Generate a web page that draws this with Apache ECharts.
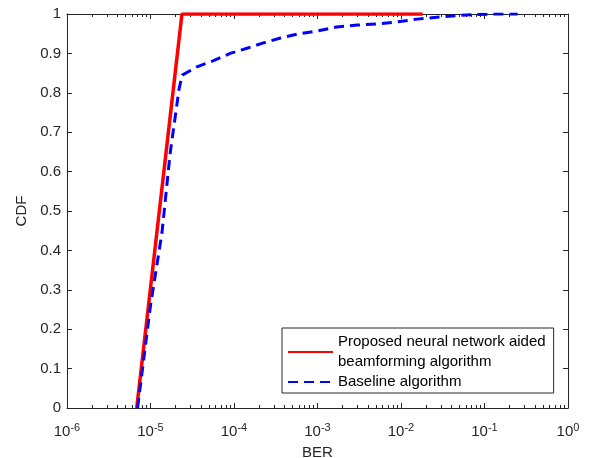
<!DOCTYPE html>
<html><head><meta charset="utf-8">
<script src="https://cdn.jsdelivr.net/npm/echarts@6/dist/echarts.min.js"></script>
<style>html,body{margin:0;padding:0;background:#fff}#c{width:591px;height:458px}</style>
</head><body><div id="c"></div>
<script>
const proposedBER = [6.84e-6, 2.38e-5, 1.82e-2];
const proposedCDF = [0, 1, 1];
const baselineBER = [7.0e-6, 1.0e-5, 1.37e-5, 1.72e-5, 2.2e-5, 2.4e-5, 3.6e-5, 5.6e-5, 9e-5, 1.43e-4, 2.2e-4, 3.6e-4, 5.7e-4, 1e-3, 1.7e-3, 3e-3, 5.2e-3, 9e-3, 1.56e-2, 2.7e-2, 4.7e-2, 8.1e-2, 0.145, 0.25];
const baselineCDF = [0, 0.26, 0.444, 0.647, 0.81, 0.845, 0.866, 0.881, 0.90, 0.913, 0.926, 0.939, 0.949, 0.957, 0.967, 0.972, 0.975, 0.98, 0.987, 0.992, 0.996, 0.999, 1.0, 1.0];
const xMajorTicks = [1e-6, 1e-5, 1e-4, 1e-3, 1e-2, 1e-1, 1];
const seriesNames = ['Proposed neural network aided\nbeamforming algorithm', 'Baseline algorithm'];

const minorTicks = [];
for (let d = -6; d < 0; d++) for (let k = 2; k <= 9; k++) minorTicks.push(k * Math.pow(10, d));

const FONT = 'Liberation Sans, Arial, sans-serif';
const AX = '#262626';
const chart = echarts.init(document.getElementById('c'), null, {renderer: 'canvas'});

function xAx(pos, major, withLabel) {
  return {
    type: 'log', logBase: 10, min: 1e-6, max: 1, position: pos, gridIndex: 0,
    axisLine: {show: major, lineStyle: {color: AX, width: 1}},
    axisTick: {show: true, inside: true, length: major ? 5 : 3, lineStyle: {color: AX, width: 1},
      customValues: major ? xMajorTicks : minorTicks},
    axisLabel: withLabel ? {
      show: true, margin: 14, customValues: xMajorTicks,
      formatter: function (v) {
        const e = Math.round(Math.log10(v));
        return '{b|10}{s|' + e + '}';
      },
      rich: {b: {fontSize: 15, color: AX, fontFamily: FONT}, s: {fontSize: 11, color: AX, fontFamily: FONT, padding: [0, 0, 9, 0]}}
    } : {show: false},
    splitLine: {show: false},
    name: withLabel ? 'BER' : '', nameLocation: 'middle', nameGap: 37,
    nameTextStyle: {fontSize: 15, color: AX, fontFamily: FONT}
  };
}
function yAx(pos, withLabel) {
  return {
    type: 'value', min: 0, max: 1, interval: 0.1, position: pos,
    axisLine: {show: true, lineStyle: {color: AX, width: 1}},
    axisTick: {show: true, inside: true, length: 5, lineStyle: {color: AX}},
    axisLabel: {show: withLabel, margin: 6, fontSize: 15, color: AX, fontFamily: FONT},
    splitLine: {show: false},
    name: withLabel ? 'CDF' : '', nameLocation: 'middle', nameGap: 28,
    nameTextStyle: {fontSize: 15, color: AX, fontFamily: FONT}
  };
}

chart.setOption({
  animation: false,
  backgroundColor: '#fff',
  grid: {left: 67, right: 23, top: 14, bottom: 50, containLabel: false, outerBoundsMode: 'none'},
  xAxis: [xAx('bottom', true, true), xAx('bottom', false, false), xAx('top', true, false), xAx('top', false, false)],
  yAxis: [yAx('left', true), yAx('right', false)],
  legend: {
    orient: 'vertical', left: 282, top: 328,
    data: seriesNames,
    backgroundColor: '#fff', borderColor: AX, borderWidth: 1, borderRadius: 0,
    padding: [4, 8, 1, 5], itemGap: 0, itemWidth: 45, itemHeight: 14,
    itemStyle: {opacity: 0},
    textStyle: {fontSize: 15, lineHeight: 20, color: '#000', fontFamily: FONT},
    selectedMode: false
  },
  series: [
    {
      name: seriesNames[0], type: 'line', xAxisIndex: 0, yAxisIndex: 0, symbol: 'none',
      data: proposedBER.map((x, i) => [x, proposedCDF[i]]),
      lineStyle: {color: '#ff0000', width: 3.5}, itemStyle: {color: '#ff0000'}, z: 3
    },
    {
      name: seriesNames[1], type: 'line', xAxisIndex: 0, yAxisIndex: 0, symbol: 'none',
      data: baselineBER.map((x, i) => [x, baselineCDF[i]]),
      lineStyle: {color: '#0000ff', width: 3, type: [10, 6]}, itemStyle: {color: '#0000ff'}, z: 4
    }
  ]
});
</script></body></html>
